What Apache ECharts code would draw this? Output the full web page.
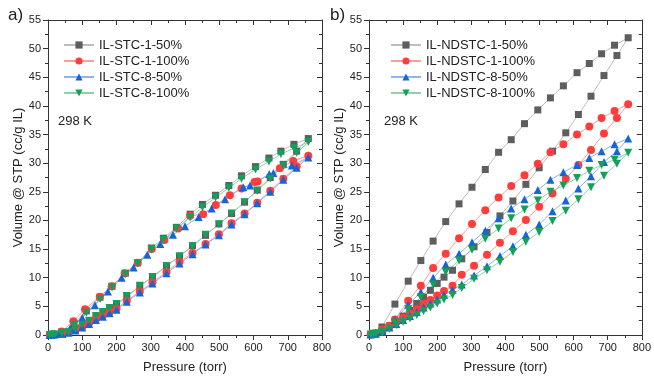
<!DOCTYPE html>
<html>
<head>
<meta charset="utf-8">
<script src="https://cdn.jsdelivr.net/npm/echarts@6/dist/echarts.min.js"></script>
<style>
  html, body { margin: 0; padding: 0; background: #fff; }
  #chart { width: 654px; height: 379px; }
</style>
</head>
<body>
<div id="chart"></div>
<script>
// panel a) IL-STC samples: adsorption (rising P) then desorption (falling P)
const stcAdsP = [5, 20, 40, 60, 80, 100, 120, 140, 160, 180, 200, 230, 268, 305, 346, 384, 422, 460, 499, 536, 574, 611, 649, 687, 726, 760]
const stc1_50Ads = [0, 0.1, 0.2, 0.5, 1.0, 1.6, 2.4, 3.2, 3.9, 4.6, 5.3, 6.7, 8.5, 10.2, 12.1, 13.8, 15.6, 17.4, 19.4, 21.2, 23.2, 25.3, 27.5, 29.8, 32.1, 34.3]
const stc1_100Ads = [0, 0.1, 0.2, 0.5, 0.9, 1.5, 2.1, 2.8, 3.4, 4.0, 4.6, 6.0, 7.6, 9.2, 11.0, 12.8, 14.3, 15.9, 17.6, 19.5, 21.2, 23.1, 25.2, 27.3, 29.4, 31.3]
const stc8_50Ads = [0, 0.1, 0.2, 0.4, 0.8, 1.3, 1.9, 2.6, 3.2, 3.8, 4.4, 5.8, 7.4, 9.0, 10.8, 12.5, 14.1, 15.8, 17.4, 19.3, 21.1, 23.0, 25.0, 27.1, 29.2, 31.0]
const stc8_100Ads = [0, 0.1, 0.2, 0.5, 1.1, 1.8, 2.5, 3.3, 4.0, 4.7, 5.4, 6.8, 8.6, 10.1, 12.0, 13.7, 15.5, 17.5, 19.3, 21.2, 23.2, 25.2, 27.3, 29.6, 31.8, 33.7]

const stcDesP = [718, 680, 645, 606, 565, 528, 489, 451, 415, 375, 337, 302, 262, 226, 187, 152, 112, 76, 40, 12]
const stc1_50Des = [33.3, 32.1, 30.9, 29.4, 27.8, 26.1, 24.4, 22.8, 21.1, 18.8, 16.9, 15.2, 12.6, 10.8, 8.5, 6.6, 4.2, 2.0, 0.5, 0.1]
const stc8_100Des = [32.6, 31.6, 30.3, 28.9, 27.3, 25.7, 24.0, 22.3, 20.5, 18.6, 16.6, 14.9, 12.5, 10.6, 8.3, 6.3, 3.9, 1.8, 0.4, 0.1]
const stc1_100DesP = [716, 677, 612, 603, 565, 531, 490, 453, 415, 380, 340, 303, 262, 224, 186, 151, 108, 74, 40, 12]
const stc1_100Des = [30.4, 29.1, 26.8, 26.7, 25.6, 24.4, 22.7, 21.1, 20.8, 18.6, 16.6, 15.0, 12.6, 10.8, 8.5, 6.7, 4.5, 2.4, 0.6, 0.1]
const stc8_50DesP = [712, 658, 646, 590, 570, 517, 478, 440, 400, 365, 328, 290, 250, 215, 175, 137, 100, 65, 35, 12]
const stc8_50Des = [29.6, 28.3, 28.1, 26.1, 25.8, 23.7, 22.1, 20.6, 19.0, 17.5, 15.9, 14.0, 11.8, 10.0, 7.6, 5.2, 3.0, 1.2, 0.3, 0.1]

// panel b) IL-NDSTC samples
const ndAdsP = [5, 20, 40, 60, 80, 100, 120, 140, 160, 180, 200, 220, 245, 272, 308, 346, 384, 422, 460, 499, 538, 577, 614, 651, 689, 727, 760]
const nd1_50Ads = [0.1, 0.3, 0.8, 1.6, 2.4, 3.3, 4.3, 5.5, 6.6, 7.8, 9.0, 10.1, 11.3, 13.3, 15.4, 17.9, 20.8, 23.4, 26.3, 29.2, 32.1, 35.3, 38.5, 41.7, 45.3, 48.8, 51.9]
const nd1_100Ads = [0.1, 0.3, 0.9, 1.6, 2.3, 3.0, 3.7, 4.5, 5.4, 6.1, 6.9, 7.7, 8.6, 10.5, 12.1, 14.0, 16.1, 18.1, 20.1, 22.4, 24.7, 27.3, 29.7, 32.3, 35.2, 37.9, 40.3]
const nd8_50Ads = [0.1, 0.2, 0.6, 1.3, 1.9, 2.6, 3.3, 4.0, 4.8, 5.5, 6.2, 7.0, 7.9, 8.8, 10.4, 12.0, 13.8, 15.5, 17.5, 19.3, 21.6, 23.5, 25.6, 27.7, 30.2, 32.1, 34.3]
const nd8_100Ads = [0.1, 0.2, 0.5, 1.1, 1.7, 2.3, 2.9, 3.5, 4.2, 4.8, 5.5, 6.2, 7.0, 8.2, 9.8, 11.3, 12.8, 14.5, 16.3, 18.0, 19.9, 21.7, 23.7, 25.8, 27.8, 29.9, 31.8]

const ndDesP = [720, 682, 646, 610, 570, 532, 495, 456, 417, 380, 341, 302, 264, 225, 188, 152, 115, 76, 38, 12]
const nd1_50Des = [50.6, 49.1, 47.4, 45.8, 43.5, 41.4, 39.3, 36.9, 34.1, 31.9, 28.9, 25.8, 22.9, 19.8, 16.4, 13.0, 9.4, 5.4, 1.4, 0.3]
const nd1_100Des = [39.1, 37.9, 36.4, 35.0, 33.3, 31.9, 29.9, 27.9, 26.0, 24.0, 21.8, 19.4, 16.9, 14.2, 11.7, 8.6, 6.0, 2.7, 0.9, 0.2]
const nd8_50Des = [33.3, 32.1, 30.9, 29.7, 28.4, 27.1, 25.3, 23.7, 22.1, 20.4, 18.2, 16.2, 14.2, 12.3, 10.0, 7.5, 5.3, 2.6, 0.6, 0.2]
const nd8_100Des = [30.6, 29.7, 28.7, 27.4, 26.1, 25.0, 23.5, 21.9, 20.4, 18.6, 16.8, 14.9, 13.0, 11.0, 8.8, 6.6, 4.5, 2.2, 0.5, 0.1]

const xTicks = { min: 0, max: 800, interval: 100 }
const yTicks = { min: 0, max: 55, interval: 5 }

const FONT = "'Liberation Sans', Arial, sans-serif"
const INK = "#222"
const AXIS = "#333"

// loop = adsorption branch followed by desorption branch, joined in order
const loop = (aP, aV, dP, dV) => [...aP.map((p, i) => [p, aV[i]]), ...dP.map((p, i) => [p, dV[i]])]

const styles = {
  gray: { marker: "#5e5e5e", line: "#bdbdbd", symbol: "rect", size: 7, rotate: 0 },
  red: { marker: "#ff3d3d", line: "#ff9c9c", symbol: "circle", size: 8, rotate: 0 },
  blue: { marker: "#1565d8", line: "#8bb6ee", symbol: "triangle", size: 8, rotate: 0 },
  green: { marker: "#15a05a", line: "#8fd0ad", symbol: "triangle", size: 8, rotate: 180 },
}

function line(name, data, s, panel) {
  const st = styles[s]
  return {
    type: "line",
    name,
    data,
    xAxisIndex: panel,
    yAxisIndex: panel,
    symbol: st.symbol,
    symbolSize: st.size,
    symbolRotate: st.rotate,
    lineStyle: { color: st.line, width: 1 },
    itemStyle: { color: st.marker },
    animation: false,
    z: 3,
  }
}

function xAxis(gi, top) {
  return {
    type: "value", gridIndex: gi, ...xTicks,
    position: top ? "top" : "bottom",
    axisLine: { show: true, onZero: false, lineStyle: { color: AXIS, width: 1 } },
    axisTick: { show: true, inside: top, length: 5, lineStyle: { color: AXIS } },
    minorTick: { show: true, splitNumber: 2, length: 3, lineStyle: { color: AXIS } },
    axisLabel: { show: !top, fontSize: 11, color: INK, fontFamily: FONT, margin: 7 },
    splitLine: { show: false },
    name: top ? "" : "Pressure (torr)",
    nameLocation: "middle", nameGap: 26,
    nameTextStyle: { fontSize: 13, color: INK, fontFamily: FONT },
  }
}

function yAxis(gi, right) {
  return {
    type: "value", gridIndex: gi, ...yTicks,
    position: right ? "right" : "left",
    axisLine: { show: true, onZero: false, lineStyle: { color: AXIS, width: 1 } },
    axisTick: { show: true, inside: right, length: 5, lineStyle: { color: AXIS } },
    minorTick: { show: true, splitNumber: 2, length: 3, lineStyle: { color: AXIS } },
    axisLabel: { show: !right, fontSize: 11, color: INK, fontFamily: FONT, margin: 7 },
    splitLine: { show: false },
    name: right ? "" : "Volume @ STP (cc/g IL)",
    nameLocation: "middle", nameGap: 23, nameRotate: 90,
    nameTextStyle: { fontSize: 13, color: INK, fontFamily: FONT },
  }
}

function legend(names, left) {
  return {
    data: names, orient: "vertical", left, top: 33,
    itemWidth: 30, itemHeight: 9, itemGap: 2,
    textStyle: { fontSize: 13, color: INK, fontFamily: FONT, lineHeight: 14 },
    selectedMode: false,
  }
}

const leftNames = ["IL-STC-1-50%", "IL-STC-1-100%", "IL-STC-8-50%", "IL-STC-8-100%"]
const rightNames = ["IL-NDSTC-1-50%", "IL-NDSTC-1-100%", "IL-NDSTC-8-50%", "IL-NDSTC-8-100%"]

const chart = echarts.init(document.getElementById("chart"), null, { renderer: "canvas" })
chart.setOption({
  backgroundColor: "#fff",
  animation: false,
  grid: [
    { left: 48, top: 20, width: 274, height: 319 },
    { left: 369, top: 20, width: 274, height: 319 },
  ],
  xAxis: [xAxis(0, false), xAxis(1, false), xAxis(0, true), xAxis(1, true)],
  yAxis: [yAxis(0, false), yAxis(1, false), yAxis(0, true), yAxis(1, true)],
  legend: [legend(leftNames, 58), legend(rightNames, 385)],
  graphic: [
    { type: "text", left: 8, top: 7, style: { text: "a)", fontSize: 17, fill: INK, fontFamily: FONT } },
    { type: "text", left: 330, top: 7, style: { text: "b)", fontSize: 17, fill: INK, fontFamily: FONT } },
    { type: "text", left: 58, top: 115, style: { text: "298 K", fontSize: 13, fill: INK, fontFamily: FONT } },
    { type: "text", left: 384, top: 115, style: { text: "298 K", fontSize: 13, fill: INK, fontFamily: FONT } },
  ],
  series: [
    line(leftNames[0], loop(stcAdsP, stc1_50Ads, stcDesP, stc1_50Des), "gray", 0),
    line(leftNames[1], loop(stcAdsP, stc1_100Ads, stc1_100DesP, stc1_100Des), "red", 0),
    line(leftNames[2], loop(stcAdsP, stc8_50Ads, stc8_50DesP, stc8_50Des), "blue", 0),
    line(leftNames[3], loop(stcAdsP, stc8_100Ads, stcDesP, stc8_100Des), "green", 0),
    line(rightNames[0], loop(ndAdsP, nd1_50Ads, ndDesP, nd1_50Des), "gray", 1),
    line(rightNames[1], loop(ndAdsP, nd1_100Ads, ndDesP, nd1_100Des), "red", 1),
    line(rightNames[2], loop(ndAdsP, nd8_50Ads, ndDesP, nd8_50Des), "blue", 1),
    line(rightNames[3], loop(ndAdsP, nd8_100Ads, ndDesP, nd8_100Des), "green", 1),
  ],
})
</script>
</body>
</html>
